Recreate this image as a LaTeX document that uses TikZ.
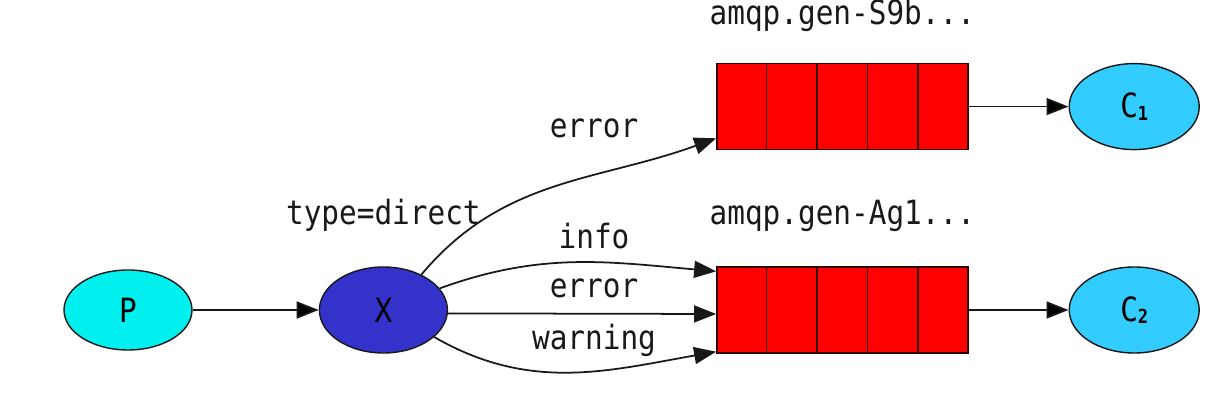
\documentclass[tikz,border=0pt]{standalone}
\usepackage{fontspec}
\newfontfamily\dotfont{DejaVu Sans Mono}[FakeStretch=0.88]
\usetikzlibrary{arrows.meta, positioning, shapes.geometric, calc}
\definecolor{prodcyan}{RGB}{0,240,240}
\definecolor{exblue}{RGB}{51,51,204}
\definecolor{conscyan}{RGB}{51,204,255}
\definecolor{qred}{RGB}{255,0,0}
\definecolor{inkgray}{RGB}{25,25,25}
\newcommand\subnum[1]{\raisebox{-0.15ex}{\fontsize{11pt}{11pt}\selectfont\bfseries #1}}

\begin{document}
\begin{tikzpicture}[
    font=\dotfont\fontsize{19pt}{22pt}\selectfont,
    EL/.style args = {#1/#2/#3}{
                    ellipse, draw=inkgray,% line color
                    fill=#1, line width=0.8pt,
                    minimum width=#2, minimum height=#3, inner sep=0pt},
    QU/.style = {draw=black!80!red, fill=qred, line width=0.8pt,
                    minimum width=5.02cm, minimum height=1.72cm, inner sep=0pt},
    TL/.style = {inner sep=0pt, text=inkgray},
    line/.style = {draw=inkgray, line width=1pt,
                    -{Triangle[length=4.4mm,width=3.4mm]}}]
%---
\useasboundingbox (0,0) rectangle (24.56,8.4);
% left
\node (p)  [EL=prodcyan/2.56cm/1.6cm] at (2.56,2.2)  {P};
\node (x)  [EL=exblue/2.56cm/1.72cm, right=2.52cm of p] {X};
% queues
\node (q2) [QU, right=5.36cm of x]  {};
\node (q1) [QU, above=2.32cm of q2] {};
\foreach \q in {q1,q2}
    \foreach \i in {1,...,4}
        \draw[black!80!red, line width=0.8pt]
            ($(\q.south west)!{\i/5}!(\q.south east)$) --
            ($(\q.north west)!{\i/5}!(\q.north east)$);
% right
\node (c1) [EL=conscyan/2.6cm/1.72cm, right=2cm of q1] {C\subnum{1}};
\node (c2) [EL=conscyan/2.6cm/1.72cm, right=2cm of q2] {C\subnum{2}};
% names
\node (n1) [TL, above=0.62cm of q1] {amqp.gen-S9b...};
\node (n2) [TL, above=0.68cm of q2] {amqp.gen-Ag1...};
\node (n3) [TL, above=0.68cm of x]  {type=direct};
% routing keys
\node (k1) [TL] at (11.88,5.84) {error};
\node (k2) [TL] at (11.88,3.68) {info};
\node (k3) [TL] at (11.88,2.64) {error};
\node (k4) [TL] at (11.88,1.6)  {warning};
% lines
\draw[line]     (p) edge (x)
                (q1) edge (c1)  (q2) edge (c2);
\draw[line]     (x.43) to[out=50, in=200] ([yshift=2.4mm]q1.south west);
\draw[line]     (x.21) to[out=20, in=175] ([yshift=-1mm]q2.north west);
\draw[line]     (x.-3) to ([yshift=-0.8mm]q2.west);
\draw[line]     (x.-28) to[out=-30, in=190] ([yshift=0.4mm]q2.south west);
\end{tikzpicture}
\end{document}
